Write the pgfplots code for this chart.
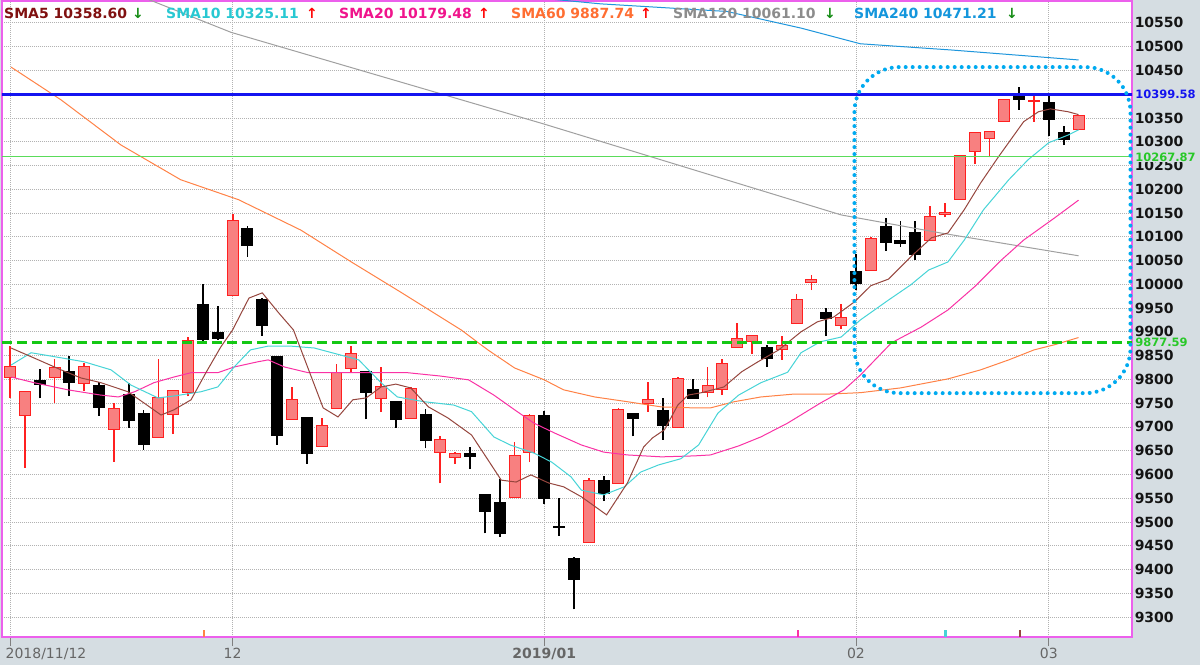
\documentclass[border=0pt]{standalone}
\usepackage{fontspec}
\setmainfont{DejaVu Sans}
\usepackage{pgfplots}
\usepackage{pgfplotstable}
\pgfplotsset{compat=1.18}

\definecolor{bgc}{RGB}{213,221,226}
\definecolor{frame}{RGB}{236,96,236}
\definecolor{gridc}{RGB}{178,178,178}
\definecolor{upfill}{RGB}{248,128,128}
\definecolor{updraw}{RGB}{255,32,32}
\definecolor{ma5}{RGB}{150,70,62}
\definecolor{ma10}{RGB}{70,212,215}
\definecolor{ma20}{RGB}{250,50,165}
\definecolor{ma60}{RGB}{255,130,70}
\definecolor{ma120}{RGB}{160,160,160}
\definecolor{ma240}{RGB}{30,150,220}
\definecolor{t5}{RGB}{128,16,16}
\definecolor{t10}{RGB}{40,200,210}
\definecolor{t20}{RGB}{240,20,140}
\definecolor{t60}{RGB}{255,110,50}
\definecolor{t120}{RGB}{140,140,140}
\definecolor{t240}{RGB}{20,150,220}
\definecolor{arrdn}{RGB}{20,140,20}
\definecolor{arrup}{RGB}{255,0,0}
\definecolor{hlblue}{RGB}{20,20,240}
\definecolor{hlgreen}{RGB}{90,220,90}
\definecolor{hldash}{RGB}{20,200,20}
\definecolor{lblgreen}{RGB}{40,200,40}
\definecolor{ellc}{RGB}{0,170,240}

% daily candles: index, open, high, low, close
\pgfplotstableread{
i o h l c
0 9804 9871 9761 9828
1 9724 9776 9614 9774
2 9797 9821 9760 9790
3 9804 9842 9751 9825
4 9816 9850 9766 9794
5 9792 9834 9776 9827
6 9788 9795 9723 9741
7 9695 9750 9627 9739
8 9769 9792 9698 9713
9 9729 9736 9652 9664
10 9677 9843 9677 9762
11 9727 9778 9685 9776
12 9772 9889 9764 9881
13 9957 10000 9880 9883
14 9898 9955 9883 9885
15 9976 10148 9976 10135
16 10118 10123 10058 10081
17 9969 9972 9892 9913
18 9848 9850 9662 9681
19 9716 9783 9716 9758
20 9720 9721 9622 9643
21 9658 9718 9658 9704
22 9738 9832 9738 9814
23 9823 9870 9813 9855
24 9816 9817 9716 9772
25 9759 9825 9731 9785
26 9753 9755 9698 9716
27 9718 9783 9718 9781
28 9727 9738 9655 9671
29 9646 9681 9581 9674
30 9636 9648 9622 9643
31 9645 9657 9611 9637
32 9557 9558 9476 9522
33 9541 9590 9469 9476
34 9552 9668 9552 9639
35 9646 9727 9626 9725
36 9723 9734 9538 9550
37 9491 9550 9471 9489
38 9424 9426 9316 9378
39 9457 9592 9457 9588
40 9588 9597 9544 9560
41 9581 9739 9581 9737
42 9729 9730 9680 9718
43 9750 9795 9732 9757
44 9734 9760 9673 9704
45 9698 9804 9698 9802
46 9779 9801 9760 9760
47 9772 9826 9762 9787
48 9779 9842 9767 9834
49 9867 9919 9866 9887
50 9879 9893 9853 9892
51 9868 9872 9826 9843
52 9863 9891 9841 9872
53 9918 9980 9916 9967
54 10004 10020 9988 10011
55 9941 9950 9891 9929
56 9913 9958 9906 9930
57 10027 10064 9987 10002
58 10029 10099 10029 10097
59 10121 10139 10071 10088
60 10093 10134 10079 10085
61 10110 10133 10051 10062
62 10093 10165 10093 10142
63 10147 10172 10141 10151
64 10179 10272 10179 10270
65 10279 10321 10253 10319
66 10306 10322 10267 10321
67 10342 10390 10342 10389
68 10398 10415 10367 10389
69 10385 10398 10342 10387
70 10382 10398 10311 10347
71 10320 10332 10293 10304
72 10326 10357 10326 10355
}\ohlc

\pgfplotsset{
  wickup/.style={draw=updraw, line width=1.8pt},
  wickdn/.style={draw=black, line width=1.8pt},
  bodyup/.style={draw=updraw, fill=upfill, line width=1pt},
  bodydn/.style={draw=black, fill=black, line width=1pt},
}

\begin{document}
\begin{tikzpicture}[x=1pt,y=1pt]
\fill[bgc] (0,0) rectangle (1200,665);
\begin{axis}[
  at={(2pt,28pt)}, anchor=south west,
  scale only axis, width=1130pt, height=636pt,
  xmin=-0.539, xmax=75.606, ymin=9258, ymax=10596,
  axis background/.style={fill=white},
  axis line style={draw=frame, line width=1.6pt},
  clip mode=individual,
  grid=major,
  grid style={draw=gridc, line width=0.8pt, dash pattern=on 1pt off 1pt},
  xtick={0,15,36,57,70},
  xticklabels={\hspace*{72pt}2018/11/12, 12, \textbf{2019/01}, 02, 03},
  xtick pos=bottom, ytick pos=right, yticklabel pos=right,
  tick align=outside, major tick length=9pt,
  xtick style={draw=black!50, line width=0.8pt},
  ytick style={draw=none},
  ytick={9300,9350,...,10350,10450,10500,10550},
  scaled y ticks=false,
  /pgf/number format/assume math mode=true,
  /pgf/number format/1000 sep={},
  yticklabel style={font=\fontsize{14}{14}\selectfont\bfseries, text=black!92, anchor=west, inner sep=0pt, xshift=-6.5pt},
  xticklabel style={font=\fontsize{14}{14}\selectfont, text=black!60, anchor=north, inner sep=0pt, yshift=-2pt},
]
\pgfplotsforeachungrouped \k in {0,...,72}{%
  \pgfplotstablegetelem{\k}{i}\of\ohlc \let\ci\pgfplotsretval
  \pgfplotstablegetelem{\k}{o}\of\ohlc \let\co\pgfplotsretval
  \pgfplotstablegetelem{\k}{h}\of\ohlc \let\ch\pgfplotsretval
  \pgfplotstablegetelem{\k}{l}\of\ohlc \let\cl\pgfplotsretval
  \pgfplotstablegetelem{\k}{c}\of\ohlc \let\cc\pgfplotsretval
  \pgfmathsetmacro\xa{\ci-0.37}%
  \pgfmathsetmacro\xb{\ci+0.37}%
  \ifdim\cc pt<\co pt \def\cs{dn}\else\def\cs{up}\fi
  \edef\tmp{\noexpand\addplot[wick\cs] coordinates {(\ci,\cl) (\ci,\ch)};%
    \noexpand\addplot[body\cs] coordinates {(\xa,\co) (\xb,\co) (\xb,\cc) (\xa,\cc)} -- cycle;}%
  \tmp
}

% moving averages
\addplot[ma240, line width=1pt] coordinates {(35.8,10602)(37.1,10598)(39.8,10590)(48.3,10574)(53.3,10539)(57.3,10506)(63.4,10493)(72,10472)};
\addplot[ma120, line width=1pt] coordinates {(8.8,10606)(9.43,10598)(14.9,10530)(36.0,10337)(56.0,10146)(62.7,10108)(72.0,10060)};
\addplot[ma60, line width=1pt] coordinates {(0.07,10457)(3.44,10388)(7.48,10293)(11.5,10220)(15.4,10178)(19.6,10114)(23.0,10047)(26.3,9984)(30.4,9904)(32.2,9862)(34.0,9824)(36.0,9799)(37.3,9778)(39.4,9763)(41.6,9753)(43.9,9742)(46.1,9740)(47.2,9740)(48.8,9753)(50.6,9763)(52.8,9769)(55.1,9769)(57.3,9772)(60.0,9782)(63.2,9801)(65.4,9820)(67.3,9841)(69.0,9862)(70.4,9873)(72.0,9888)};
\addplot[ma20, line width=1pt] coordinates {(0.07,9805)(1.62,9793)(3.9,9778)(6.1,9767)(7.3,9763)(8.4,9774)(9.7,9793)(11.05,9805)(12.2,9814)(14.0,9814)(15.1,9826)(16.7,9837)(17.4,9841)(18.5,9826)(20.1,9814)(22.8,9814)(26.8,9814)(29.0,9807)(30.9,9799)(32.6,9767)(34.0,9736)(35.3,9708)(36.7,9687)(38.5,9662)(40.0,9647)(41.6,9641)(43.9,9637)(46.1,9639)(47.2,9641)(49.1,9660)(50.6,9679)(52.4,9708)(54.6,9750)(56.2,9778)(57.3,9809)(59.4,9877)(61.4,9910)(63.2,9946)(65.0,9995)(66.8,10051)(68.3,10093)(70.4,10140)(72.0,10177)};
\addplot[ma10, line width=1pt] coordinates {(0.07,9830)(1.42,9856)(2.76,9849)(4.99,9837)(6.81,9820)(8.15,9788)(9.97,9761)(11.05,9765)(12.87,9774)(14.0,9784)(15.1,9826)(16.2,9862)(17.4,9870)(18.9,9870)(20.5,9866)(23.5,9841)(25.0,9793)(26.1,9763)(27.9,9753)(29.9,9746)(31.1,9732)(32.6,9679)(33.7,9662)(35.3,9645)(36.5,9626)(37.8,9595)(38.5,9567)(40.0,9557)(41.4,9574)(42.5,9605)(43.7,9620)(45.2,9633)(46.4,9662)(47.7,9729)(49.1,9767)(50.6,9793)(52.4,9815)(53.3,9856)(54.6,9879)(56.0,9889)(57.3,9925)(59.2,9967)(60.7,9999)(61.9,10030)(63.2,10047)(64.3,10093)(65.6,10157)(67.3,10220)(68.6,10262)(70.0,10298)(71.3,10314)(72.0,10325)};
\addplot[ma5, line width=1pt] coordinates {(0.07,9866)(1.62,9845)(3.44,9820)(4.78,9803)(6.13,9793)(7.95,9774)(10.18,9725)(11.05,9736)(12.2,9757)(13.2,9814)(14.2,9868)(15.0,9904)(16.1,9971)(17.0,9982)(18.1,9940)(19.1,9904)(21.1,9740)(22.1,9721)(23.1,9757)(24.0,9761)(25.0,9784)(26.0,9790)(27.0,9782)(28.2,9742)(29.5,9719)(31.1,9683)(32.2,9631)(33.1,9588)(34.1,9584)(35.1,9599)(36.3,9582)(37.3,9574)(38.5,9553)(40.2,9515)(41.6,9582)(42.7,9658)(43.3,9677)(44.1,9694)(45.0,9746)(45.7,9767)(46.6,9772)(48.1,9784)(49.3,9816)(50.4,9837)(51.8,9862)(53.3,9900)(54.4,9921)(55.5,9931)(56.9,9963)(58.0,9997)(59.2,10011)(60.7,10058)(62.1,10098)(63.2,10108)(64.3,10157)(65.4,10213)(66.6,10268)(68.3,10342)(69.3,10363)(70.1,10369)(71.3,10363)(72.0,10357)};

% horizontal reference lines
\addplot[hlgreen, line width=1pt] coordinates {(-1,10267.87)(77,10267.87)};
\addplot[hlblue, line width=3pt] coordinates {(-1,10399.58)(77,10399.58)};
\addplot[hldash, line width=3.5pt, dash pattern=on 10pt off 5pt] coordinates {(-0.539,9877.59)(77,9877.59)};

% cross signals at the bottom
\addplot[ma60, line width=2.5pt] coordinates {(13.07,9258)(13.07,9272)};
\addplot[ma20, line width=2.5pt] coordinates {(53.1,9258)(53.1,9272)};
\addplot[ma10, line width=2.5pt] coordinates {(63.05,9258)(63.05,9272)};
\addplot[ma5, line width=2.5pt] coordinates {(68.06,9258)(68.06,9272)};

\draw[ellc, line width=4pt, line cap=round, dash pattern=on 0pt off 7pt, rounded corners=45pt]
  (axis cs:56.9,10457) rectangle (axis cs:75.5,9771);

\coordinate (L1) at (axis cs:75.606,10399.58);
\coordinate (L2) at (axis cs:75.606,10267.87);
\coordinate (L3) at (axis cs:75.606,9877.59);
\end{axis}

\begin{scope}[every node/.style={font=\fontsize{11.5}{11.5}\selectfont\bfseries, anchor=west, fill=bgc, inner sep=0.6pt, xshift=2.4pt}]
\node[text=hlblue] at (L1) {10399.58};
\node[text=lblgreen] at (L2) {10267.87};
\node[text=lblgreen] at (L3) {9877.59};
\end{scope}

\begin{scope}[every node/.style={font=\fontsize{14}{16}\selectfont\bfseries, anchor=base west, inner sep=0pt}]
\node[text=t5] at (4,646) {SMA5 10358.60};
\node[text=arrdn] at (132,646) {↓};
\node[text=t10] at (166,646) {SMA10 10325.11};
\node[text=arrup] at (306,646) {↑};
\node[text=t20] at (339,646) {SMA20 10179.48};
\node[text=arrup] at (478,646) {↑};
\node[text=t60] at (511,646) {SMA60 9887.74};
\node[text=arrup] at (640,646) {↑};
\node[text=t120] at (673,646) {SMA120 10061.10};
\node[text=arrdn] at (824,646) {↓};
\node[text=t240] at (854,646) {SMA240 10471.21};
\node[text=arrdn] at (1006,646) {↓};
\end{scope}

\pgfresetboundingbox
\path[use as bounding box] (0,0) rectangle (1200,665);
\end{tikzpicture}
\end{document}
